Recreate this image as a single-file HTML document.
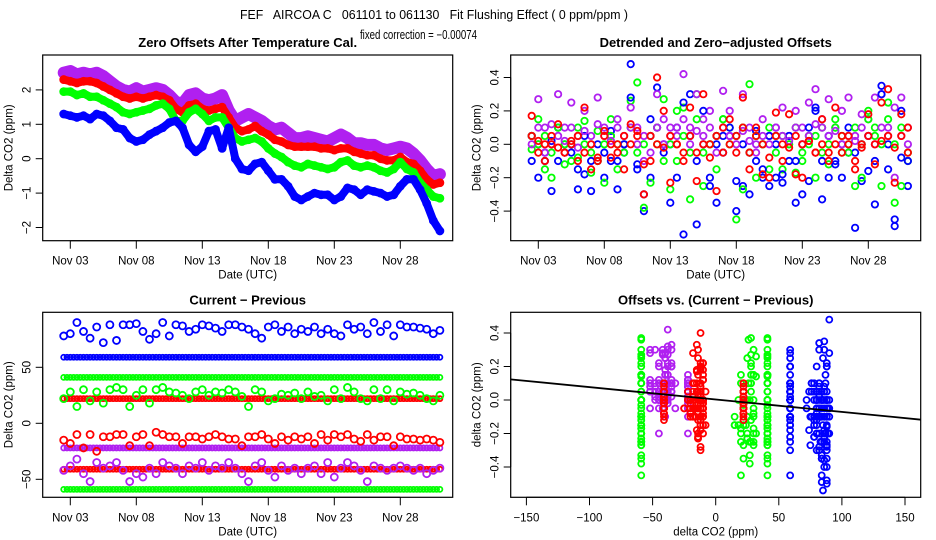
<!DOCTYPE html>
<html><head><meta charset="utf-8">
<style>
html,body{margin:0;padding:0;background:#fff;}
svg{display:block;font-family:"Liberation Sans",sans-serif;}
text{white-space:pre;}
</style></head>
<body>
<svg id="fig" width="936" height="540" viewBox="0 0 936 540">
<text x="434" y="19" font-size="13" text-anchor="middle" xml:space="preserve" textLength="388" lengthAdjust="spacingAndGlyphs">FEF   AIRCOA C   061101 to 061130   Fit Flushing Effect ( 0 ppm/ppm )</text>
<text x="418.5" y="39" font-size="12.5" text-anchor="middle" textLength="117" lengthAdjust="spacingAndGlyphs">fixed correction = −0.00074</text>
</svg>
<script>
// ---- data ----
var times = [2.5,3,3.5,4,4.5,5,5.5,6,6.5,7,7.5,8,8.5,9,9.5,10,10.5,11,11.5,12,12.5,13,13.5,14,14.5,15,15.5,16,16.5,17,17.5,18,18.5,19,19.5,20,20.5,21,21.5,22,22.5,23,23.5,24,24.5,25,25.5,26,26.5,27,27.5,28,28.5,29,29.5,30,30.5,31];
var dateTicks = [3,8,13,18,23,28];
var dateTickLabels = ["Nov 03","Nov 08","Nov 13","Nov 18","Nov 23","Nov 28"];
// panel 1: zero offsets
var offBlue = [1.3,1.25,1.2,1.25,1.15,1.3,1.25,1.1,0.9,0.85,0.6,0.5,0.55,0.7,0.8,0.9,1.05,1.1,0.9,0.4,0.2,0.35,0.8,0.85,0.3,0.9,0.0,-0.3,-0.35,-0.15,-0.1,-0.35,-0.6,-0.6,-0.8,-1.1,-1.2,-1.1,-1.0,-1.05,-1.05,-1.2,-1.1,-0.85,-0.9,-1.05,-0.9,-0.95,-1.0,-1.1,-1.05,-0.8,-0.6,-0.6,-0.9,-1.3,-1.8,-2.1];
var offRed = [2.3,2.25,2.2,2.25,2.25,2.2,2.1,2.0,1.9,1.8,1.75,1.8,1.75,1.8,1.85,1.8,1.7,1.45,1.35,1.55,1.6,1.45,1.4,1.45,1.5,1.2,0.9,0.8,0.85,0.95,0.8,0.7,0.55,0.5,0.4,0.35,0.35,0.35,0.35,0.3,0.3,0.25,0.3,0.3,0.2,0.15,0.1,0.1,0.0,-0.05,-0.05,0.05,-0.1,-0.15,-0.35,-0.6,-0.75,-0.7];
var offGreen = [1.95,1.95,1.85,1.9,1.8,1.8,1.7,1.6,1.5,1.35,1.3,1.35,1.4,1.45,1.55,1.6,1.45,1.1,1.1,1.35,1.45,1.3,1.1,1.2,1.2,0.9,0.6,0.5,0.55,0.6,0.5,0.3,0.15,0.05,-0.1,-0.2,-0.25,-0.15,-0.2,-0.25,-0.3,-0.25,-0.1,-0.05,-0.2,-0.25,-0.2,-0.25,-0.35,-0.4,-0.3,-0.1,-0.3,-0.4,-0.7,-0.9,-1.1,-1.15];
var offPurple = [2.5,2.55,2.45,2.5,2.45,2.5,2.4,2.25,2.1,2.0,1.95,2.05,1.95,2.0,2.05,2.0,1.85,1.65,1.6,1.85,1.9,1.75,1.7,1.75,1.85,1.4,1.1,1.2,1.3,1.2,1.1,0.95,0.85,0.9,0.75,0.6,0.6,0.65,0.6,0.55,0.5,0.6,0.7,0.6,0.45,0.45,0.4,0.4,0.3,0.25,0.3,0.35,0.3,0.15,-0.05,-0.3,-0.5,-0.45];
var offTicks = [-2,-1,0,1,2];
// panel 2: detrended
var detBlueA = [-0.1,-0.2,-0.05,-0.28,-0.1,0.0,-0.05,-0.27,-0.18,-0.28,-0.1,-0.2,-0.1,-0.27,-0.05,0.48,-0.15,-0.4,-0.2,0.34,0.0,-0.35,-0.2,-0.54,0.3,-0.48,0.0,-0.2,-0.35,-0.05,0.05,-0.4,-0.25,-0.3,-0.1,-0.2,-0.25,-0.2,-0.23,-0.1,-0.35,-0.3,-0.22,0.22,-0.33,-0.2,-0.1,-0.2,-0.05,-0.5,-0.22,-0.16,-0.36,0.35,-0.15,-0.49,-0.08,-0.25];
var detBlueB = [0.05,0.0,-0.1,0.02,0.1,-0.05,0.0,-0.15,0.05,-0.1,0.0,-0.05,0.08,-0.1,0.0,0.28,-0.12,-0.3,0.15,0.1,-0.05,0.0,0.1,0.25,0.05,-0.1,0.2,-0.25,0.0,0.05,0.1,-0.22,0.0,-0.05,0.08,-0.15,0.05,0.0,-0.18,0.05,-0.1,0.0,0.1,0.2,-0.1,0.05,-0.12,0.0,0.1,-0.05,0.0,0.05,-0.1,0.3,0.0,-0.45,0.2,-0.1];
var detRedA = [0.17,-0.05,-0.1,0.0,0.12,-0.05,0.02,-0.1,0.22,-0.15,-0.1,0.08,-0.08,0.0,-0.15,0.12,0.05,-0.3,-0.1,0.4,0.2,-0.23,0.0,-0.1,0.22,-0.22,0.3,0.0,-0.28,-0.05,0.15,-0.05,0.28,-0.15,0.1,-0.18,-0.2,0.19,-0.1,0.18,-0.18,-0.2,0.02,-0.05,0.15,-0.1,0.22,-0.05,0.05,-0.15,0.0,0.18,-0.12,0.25,0.33,-0.23,0.18,0.1];
var detRedB = [0.05,0.02,0.0,0.05,-0.02,-0.05,0.0,0.05,-0.05,0.0,-0.08,0.05,0.0,-0.05,0.05,0.0,0.08,-0.12,0.05,0.0,-0.02,0.05,0.0,-0.05,0.05,-0.05,0.0,-0.08,0.05,0.1,0.0,0.05,0.1,-0.05,0.05,0.0,-0.08,0.05,0.0,-0.02,0.05,0.0,0.02,-0.05,0.0,-0.05,0.0,0.05,0.0,-0.1,-0.02,0.05,0.0,0.02,0.05,-0.02,0.05,-0.05];
var detGreenA = [-0.03,0.15,-0.15,-0.2,0.1,-0.12,0.0,-0.08,0.14,-0.17,-0.1,-0.23,0.15,-0.15,0.0,0.26,0.37,-0.38,-0.23,0.0,0.27,-0.27,-0.1,0.22,-0.33,0.3,-0.25,0.0,-0.15,0.15,0.1,-0.45,-0.27,0.36,-0.2,0.0,-0.15,0.05,-0.15,0.0,-0.17,-0.1,0.05,-0.2,0.1,-0.12,0.15,-0.05,0.0,-0.25,-0.2,0.2,0.1,-0.25,0.25,-0.35,-0.25,-0.1];
var detGreenB = [0.05,0.0,0.05,-0.05,0.1,0.0,-0.1,0.1,0.0,-0.05,0.08,0.0,0.05,0.0,-0.05,0.1,-0.05,0.0,0.05,0.1,-0.1,0.0,0.2,0.05,-0.05,0.15,-0.05,0.0,0.05,0.15,0.0,0.05,0.1,-0.05,0.05,0.0,0.1,-0.05,0.05,0.0,0.1,-0.05,0.0,0.05,-0.05,0.0,0.1,0.05,-0.05,0.1,0.0,0.15,0.05,0.0,0.15,0.0,0.1,-0.05];
var detPurpleA = [0.05,0.27,0.1,0.0,0.3,0.1,0.25,0.05,0.2,0.05,0.28,0.1,0.05,0.15,0.0,0.22,0.1,0.05,-0.05,0.3,0.15,0.1,0.05,0.42,0.1,0.3,0.15,0.2,0.05,0.32,0.2,0.05,0.3,0.1,0.0,0.15,0.05,0.1,0.22,0.05,0.2,0.1,0.25,0.33,0.15,0.27,0.1,0.2,0.28,0.05,0.18,0.15,0.28,0.3,0.1,0.22,0.28,0.1];
var detPurpleB = [0.0,0.1,-0.05,0.12,0.05,0.02,0.1,-0.02,0.08,0.0,0.12,0.05,0.02,0.1,0.05,0.1,0.0,-0.1,0.05,0.1,0.0,0.05,0.1,0.15,0.0,0.08,0.05,0.1,-0.05,0.1,0.05,0.0,0.08,0.02,-0.05,0.05,0.0,0.1,0.05,0.02,0.1,0.0,0.05,0.12,0.1,0.05,0.08,0.0,0.05,0.02,0.1,0.05,0.0,0.1,0.05,-0.2,0.05,0.0];
var detTicks = [-0.4,-0.2,0.0,0.2,0.4];
// panel 3: current - previous
var cpBlueVar = [78,80,90,82,76,86,72,88,74,88,88,89,82,75,80,90,78,88,87,82,84,88,87,85,82,88,88,86,84,80,76,86,88,82,86,80,84,82,86,80,84,80,78,88,84,86,80,90,82,88,78,88,86,86,85,84,80,83];
var cpGreenVar = [22,28,15,30,20,28,18,30,32,30,15,25,30,18,30,32,28,27,25,22,28,30,25,28,27,30,28,24,15,30,28,20,22,26,25,27,22,28,24,25,20,30,22,32,28,22,20,30,22,30,20,28,26,27,25,22,20,25];
var cpRedVar = [-15,-18,-10,-22,-10,-25,-12,-12,-10,-10,-20,-12,-10,-20,-8,-10,-12,-12,-18,-12,-12,-14,-12,-10,-12,-14,-14,-20,-12,-12,-10,-14,-18,-12,-15,-12,-14,-12,-18,-10,-15,-10,-12,-10,-14,-16,-10,-15,-12,-12,-20,-12,-14,-14,-15,-14,-15,-17];
var cpPurpleVar = [-42,-38,-32,-45,-52,-35,-40,-38,-35,-42,-52,-45,-48,-40,-45,-35,-38,-40,-45,-38,-40,-35,-42,-38,-40,-35,-40,-45,-52,-38,-35,-42,-48,-38,-42,-40,-45,-40,-38,-45,-35,-48,-40,-35,-38,-42,-52,-38,-40,-42,-40,-38,-40,-42,-40,-45,-42,-40];
var cpConstBlue = [59];
var cpConstGreen = [41,-59];
var cpConstRed = [22,-41];
var cpConstPurple = [-22];
var cpTicks = [-50,0,50];
// panel 4: fit
var fitSlope = -0.00074;
var fitIntercept = 0.003;
var fitXTicks = [-150,-100,-50,0,50,100,150];

// ---- drawing ----
var NS = "http://www.w3.org/2000/svg";
var svg = document.getElementById("fig");
function mk(tag, parent, attrs){
  var e = document.createElementNS(NS, tag);
  for (var k in attrs) e.setAttribute(k, attrs[k]);
  parent.appendChild(e);
  return e;
}
var BLUE="#0000ff", RED="#ff0000", GREEN="#00ff00", PURPLE="#b020f0";

function panel(name, x0, x1, y0, y1, title){
  var g = mk("g", svg, {});
  
  
  var t = mk("text", g, {x:(x0+x1)/2, y:y0-8, "font-size":13, "font-weight":"bold", "text-anchor":"middle"});
  t.textContent = title;
  
  
  var clipId = name+"-clip";
  var cp = mk("clipPath", g, {id:clipId});
  mk("rect", cp, {x:x0, y:y0, width:x1-x0, height:y1-y0});
  var plot = mk("g", g, {"clip-path":"url(#"+clipId+")"});
  
  
  var box = mk("rect", g, {x:x0, y:y0, width:x1-x0, height:y1-y0, fill:"none", stroke:"#000", "stroke-width":1.2});
  
  
  return {g:g, plot:plot, x0:x0, x1:x1, y0:y0, y1:y1};
}
function xAxis(p, ticks, labels, fx, title){
  var a = mk("line", p.g, {x1:fx(ticks[0]), x2:fx(ticks[ticks.length-1]), y1:p.y1, y2:p.y1, stroke:"#000"});
  
  
  for (var i=0;i<ticks.length;i++){
    var x = fx(ticks[i]);
    var tk = mk("line", p.g, {x1:x, x2:x, y1:p.y1, y2:p.y1+8, stroke:"#000"});
    
    
    var tl = mk("text", p.g, {x:x, y:p.y1+24, "font-size":11.5, "text-anchor":"middle"});
    tl.textContent = labels[i];
    
    
  }
  var at = mk("text", p.g, {x:(p.x0+p.x1)/2, y:p.y1+38, "font-size":11.5, "text-anchor":"middle"});
  at.textContent = title;
  
  
}
function yAxis(p, ticks, labels, fy, title){
  var a = mk("line", p.g, {x1:p.x0, x2:p.x0, y1:fy(ticks[0]), y2:fy(ticks[ticks.length-1]), stroke:"#000"});
  
  
  for (var i=0;i<ticks.length;i++){
    var y = fy(ticks[i]);
    var tk = mk("line", p.g, {x1:p.x0-7, x2:p.x0, y1:y, y2:y, stroke:"#000"});
    
    
    var tl = mk("text", p.g, {x:0, y:0, "font-size":11.5, "text-anchor":"middle", transform:"translate("+(p.x0-12)+","+y+") rotate(-90)"});
    tl.textContent = labels[i];
    
    
  }
  var at = mk("text", p.g, {x:0, y:0, "font-size":11.5, "text-anchor":"middle", transform:"translate("+(p.x0-30)+","+((p.y0+p.y1)/2)+") rotate(-90)"});
  at.textContent = title;
  
  
}
function pt(parent, x, y, color, r){
  var c = mk("circle", parent, {cx:x, cy:y, r:r||3, fill:"none", stroke:color, "stroke-width":1.8});
  
  
}
function fmt(v){ return (v<0?"\u2212":"")+Math.abs(v).toFixed(1).replace(/^(\d+)\.0$/,"$1"); }
function fmtD(v){ return (v<0?"\u2212":"")+Math.abs(v).toFixed(1); }

// Panel 1
var p1 = panel("zero-offsets-panel", 42.7, 452.7, 55, 240.7, "Zero Offsets After Temperature Cal.");
var fx1 = function(d){ return 70.3 + 13.2*(d-3); };
var fy1 = function(v){ return 158.7 - 34.4*v; };
xAxis(p1, dateTicks, dateTickLabels, fx1, "Date (UTC)");
yAxis(p1, offTicks, offTicks.map(function(v){return fmt(v);}), fy1, "Delta CO2 (ppm)");
function band(p, arr, color, w, fx, fy, nm){
  var pts = arr.map(function(v,i){ return fx(times[i]).toFixed(1)+","+fy(v).toFixed(1); }).join(" ");
  var pl = mk("polyline", p.plot, {points:pts, fill:"none", stroke:color, "stroke-width":w, "stroke-linejoin":"round", "stroke-linecap":"round"});
  
  
  for (var i=0;i<arr.length;i++) pt(p.plot, fx(times[i]), fy(arr[i]), color, 3.5);
}
band(p1, offPurple, PURPLE, 12, fx1, fy1, "purple-offset-series");
band(p1, offRed, RED, 8, fx1, fy1, "red-offset-series");
band(p1, offGreen, GREEN, 8, fx1, fy1, "green-offset-series");
band(p1, offBlue, BLUE, 8, fx1, fy1, "blue-offset-series");

// Panel 2
var p2 = panel("detrended-panel", 510.7, 920.7, 55, 240.7, "Detrended and Zero\u2212adjusted Offsets");
var fx2 = function(d){ return 538.3 + 13.2*(d-3); };
var fy2 = function(v){ return 144.3 - 167*v; };
xAxis(p2, dateTicks, dateTickLabels, fx2, "Date (UTC)");
yAxis(p2, detTicks, detTicks.map(fmtD), fy2, "Delta CO2 (ppm)");
var detSeries = [[detBlueA,BLUE],[detGreenA,GREEN],[detPurpleA,PURPLE],[detBlueB,BLUE],[detGreenB,GREEN],[detPurpleB,PURPLE],[detRedA,RED],[detRedB,RED]];
detSeries.forEach(function(s){
  for (var i=0;i<s[0].length;i++) pt(p2.plot, fx2(times[i]), fy2(s[0][i]), s[1], 3.2);
});

// Panel 3
var p3 = panel("current-previous-panel", 42.7, 452.7, 312.3, 497.3, "Current \u2212 Previous");
var fy3 = function(v){ return 423.3 - 1.12*v; };
xAxis(p3, dateTicks, dateTickLabels, fx1, "Date (UTC)");
yAxis(p3, cpTicks, cpTicks.map(fmt), fy3, "Delta CO2 (ppm)");
function constRow(val, color){
  for (var k=0;k<times.length*2-1;k++){
    var t = times[0] + 0.25*k;
    pt(p3.plot, fx1(t), fy3(val), color, 2.5);
  }
}
cpConstBlue.forEach(function(v){ constRow(v, BLUE); });
cpConstGreen.forEach(function(v){ constRow(v, GREEN); });
cpConstRed.forEach(function(v){ constRow(v, RED); });
cpConstPurple.forEach(function(v){ constRow(v, PURPLE); });
[[cpBlueVar,BLUE],[cpGreenVar,GREEN],[cpRedVar,RED],[cpPurpleVar,PURPLE]].forEach(function(s){
  for (var i=0;i<s[0].length;i++) pt(p3.plot, fx1(times[i]), fy3(s[0][i]), s[1], 3.5);
});

// Panel 4
var p4 = panel("offsets-vs-cp-panel", 510.7, 920.7, 312.3, 497.3, "Offsets vs. (Current \u2212 Previous)");
var fx4 = function(v){ return 715.7 + 1.262*v; };
var fy4 = function(v){ return 400 - 167.5*v; };
xAxis(p4, fitXTicks, fitXTicks.map(fmt), fx4, "delta CO2 (ppm)");
yAxis(p4, detTicks, detTicks.map(fmtD), fy4, "delta CO2 (ppm)");
function scat(xs, ys, color){
  for (var i=0;i<ys.length;i++){
    var xv = xs.length===1 ? xs[0] : xs[i];
    pt(p4.plot, fx4(xv), fy4(ys[i]), color, 3);
  }
}
cpConstGreen.forEach(function(v){ scat([v], detGreenA, GREEN); });
scat(cpGreenVar, detGreenA, GREEN);
scat(cpPurpleVar, detPurpleA, PURPLE);
scat(cpPurpleVar, detPurpleB, PURPLE);
cpConstPurple.forEach(function(v){ scat([v], detPurpleB, PURPLE); });
cpConstRed.forEach(function(v){ scat([v], detRedB, RED); });
scat(cpRedVar, detRedA, RED);
scat(cpRedVar, detRedB, RED);
cpConstBlue.forEach(function(v){ scat([v], detBlueB, BLUE); });
scat(cpBlueVar, detBlueA, BLUE);
scat(cpBlueVar, detBlueB, BLUE);
var fl = mk("line", p4.plot, {x1:fx4(-170), y1:fy4(fitIntercept+fitSlope*-170), x2:fx4(170), y2:fy4(fitIntercept+fitSlope*170), stroke:"#000", "stroke-width":1.8});


</script>
</body></html>
